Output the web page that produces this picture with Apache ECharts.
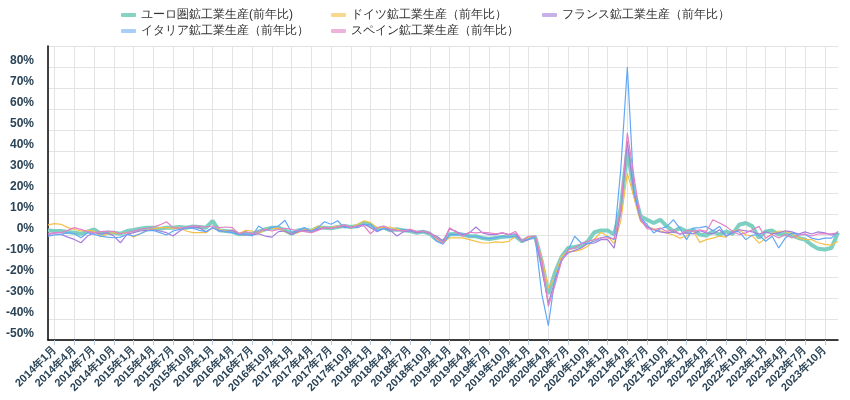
<!DOCTYPE html>
<html><head><meta charset="utf-8">
<script src="https://cdn.jsdelivr.net/npm/echarts@6/dist/echarts.min.js"></script>
<style>html,body{margin:0;padding:0;background:#fff}#c{width:850px;height:400px}</style>
</head><body><div id="c"></div>
<script>
// months 2013-12 .. 2023-12
const months = ['2013年12月'];
for (let y = 2014; y <= 2023; y++) for (let m = 1; m <= 12; m++) months.push(y + '年' + m + '月');

const euroArea = [2.2,1.9,1.9,1.4,1.1,0.6,1.6,2.7,0.6,1.1,1.1,0.6,1.9,2.4,3.0,3.5,3.5,2.9,3.5,3.5,3.8,3.5,4.0,3.8,3.5,6.7,2.2,1.9,1.6,0.3,0.6,
  0.6,1.6,2.7,3.5,3.5,2.2,0.6,2.2,2.7,1.9,3.5,3.5,3.2,3.8,4.3,3.8,4.3,5.9,4.8,2.7,3.5,2.2,2.7,2.2,1.9,1.1,1.6,0.6,-2.1,-3.2,0.3,
  0.5,0.2,-0.6,-0.6,-1.4,-1.9,-1.4,-0.9,-0.6,-0.6,-3.0,-1.4,-0.9,
  -12.5,-28,-18,-10.5,-6.2,-5.7,-5.1,-3,1.3,2.2,2.2,0.2,13,40.6,21,
  8.9,7.3,5.7,7.3,4.1,1.7,3.3,1.7,2.5,0.2,-0.2,1.7,0.2,1.7,0.5,4.9,5.7,4.1,-1.4,1.7,2.1,0.2,0.5,-0.2,-1.4,-2.2,-4.8,-6.6,-6.9,-6.2,1.2];
const germany = [4.8,5.4,5.1,3.5,2.7,1.9,2.2,1.9,-0.8,0.6,1.1,0.6,1.1,-1.0,0.6,2.2,2.9,3.5,3.5,3.2,3.5,1.9,1.1,1.1,1.1,3.5,2.7,1.9,2.2,0.6,2.2,
  1.9,0.6,2.7,3.2,3.2,1.6,0.6,1.1,2.7,2.2,4.3,3.5,3.5,4.3,3.8,3.5,5.1,6.7,5.9,3.5,3.5,3.8,2.7,2.2,2.7,1.1,1.6,0.6,-2.1,-3.7,-1.3,
  -1.4,-1.4,-2.2,-3.0,-3.8,-3.8,-3.3,-3.5,-3.0,-0.6,-3.0,-1.0,-0.6,
  -11,-25.2,-20,-10.2,-7.8,-7.8,-7,-5.4,-1.9,1.3,-0.6,-4.1,6.5,29.5,18,
  6.5,4.1,3.0,2.0,1.0,0.0,-1.5,-0.5,2.0,-3.5,-2.2,-1.5,-0.5,-1.0,2.0,2.5,0.0,-0.4,-3.9,-1.6,0.7,1.9,1.6,0.7,-1.5,-2.1,-2.2,-3.7,-4.5,-4.8,-3.0];
const france = [0.3,0.6,0.3,-1.0,-2.1,-3.7,-0.5,1.1,0.6,1.1,-0.5,-3.7,0.3,1.1,1.9,2.2,2.5,1.9,1.1,-0.5,1.9,3.5,3.8,3.5,1.6,3.5,1.9,1.6,2.2,0.3,0.0,
  0.0,0.6,-0.5,-1.0,1.6,1.9,0.3,1.6,2.2,1.9,2.7,3.5,3.2,3.8,4.1,3.5,4.3,5.1,3.5,1.6,3.2,2.2,-0.5,1.6,1.9,1.1,1.6,0.6,-0.5,-2.9,2.9,
  1.7,0.2,1.0,3.8,1.0,0.2,0.2,1.0,0.2,0.6,-3.0,-2.2,-0.6,
  -16.2,-32.5,-22,-11.8,-8.6,-7.3,-6.2,-4.1,-3.8,-2.2,-2.2,-6.2,11,44.6,20,
  7.3,4.0,2.5,1.5,1.0,1.5,0.5,1.0,0.5,2.0,1.0,0.5,2.5,-0.5,1.0,2.5,2.0,1.5,0.5,1.5,0.5,1.0,2.0,1.5,0.5,1.5,0.5,1.5,1.0,0.0,1.0];
const italy = [-0.5,0.0,0.3,1.1,0.6,-1.3,1.1,0.3,-0.5,-1.0,-1.3,-1.0,0.3,-0.5,0.6,1.9,2.2,1.1,0.0,1.9,2.7,3.5,3.2,2.2,1.6,3.5,2.2,1.6,1.1,0.3,0.6,
  -0.5,4.3,2.2,3.5,4.3,7.0,1.1,2.2,3.5,1.6,3.5,6.3,5.1,6.8,3.5,3.8,3.5,4.8,5.1,1.9,3.2,2.7,1.9,2.7,2.2,1.6,1.6,1.1,-2.9,-4.4,0.3,
  0.2,0.2,-0.6,-0.6,-1.4,-1.7,-1.4,-0.6,-1.0,-0.6,-2.7,-1.9,-1.0,
  -28,-43.2,-20.6,-12.5,-7.3,-0.6,-3.8,-4.1,-3.0,-1.4,-0.6,-2.2,31,80,21,
  8.1,5,1,3,4,7.3,3,-2.2,3.3,3.5,4.1,2,4.1,-0.6,1.8,1.5,-2.2,0,0,-3,-0.6,-6.2,-1.4,1,0.2,0.2,-1.5,-2.2,-1.5,-1.5,1.7];
const spain = [0.6,1.1,1.1,2.2,3.5,2.7,1.6,1.1,1.6,1.9,1.6,0.6,1.1,1.9,2.7,3.2,3.8,4.8,6.3,3.5,3.2,3.8,4.3,4.1,3.8,4.3,3.5,3.8,3.5,0.6,1.6,
  0.6,1.6,2.7,1.9,2.7,3.2,2.7,1.9,1.6,1.1,2.2,3.5,3.2,3.8,4.8,3.5,4.3,4.3,0.6,3.5,4.3,2.7,2.2,1.9,2.7,1.6,1.9,1.1,-1.3,-4.0,3.5,
  1.3,-0.6,1.3,1.0,1.3,1.0,0.6,1.0,0.2,1.7,-2.7,-0.6,-0.6,
  -12,-34,-24,-12.5,-7,-6.2,-4.1,-3.0,-2.2,-1.4,-1.4,-1.9,12,48.6,28,
  7.3,3,2.5,3.3,1.7,2.5,0.2,2.1,1.7,2.5,1.7,7.3,5.7,4.1,1.7,0.2,1,2.5,4.1,-1.4,0.2,-1.4,0.2,-1.4,0,0.5,-0.5,0.5,0.5,0.5,1];

const names = ['ユーロ圏鉱工業生産(前年比)','ドイツ鉱工業生産（前年比）','フランス鉱工業生産（前年比）','イタリア鉱工業生産（前年比）','スペイン鉱工業生産（前年比）'];
const values = [euroArea, germany, france, italy, spain];
const colors = ['#7ccfc1','#f5c04a','#a57ddc','#62a8f7','#e381c5'];
const legendColors = ['#86d3c6','#f7d88f','#c8b1e8','#a9cef8','#eeb3db'];
const widths = [4,1.2,1.2,1.2,1.2];
const legendPos = [[121,9],[331,9],[542,9],[121,25],[331,25]];

const every3 = (i) => i % 3 === 1;
const chart = echarts.init(document.getElementById('c'), null, {renderer:'canvas'});
chart.setOption({
  animation: false,
  color: colors,
  legend: names.map((n,k)=>({
    left: legendPos[k][0], top: legendPos[k][1], padding: 0,
    icon: 'roundRect', itemWidth: 15, itemHeight: 4,
    textStyle: {fontSize: 12, color: '#333'},
    data: [{name: n, itemStyle: {color: legendColors[k]}}]
  })),
  grid: {left: 48, right: 12, top: 46, bottom: 60},
  xAxis: {
    type: 'category', boundaryGap: false, data: months,
    axisLine: {onZero: false, lineStyle: {color: '#000', width: 1.5}},
    axisTick: {show: true, interval: every3, length: 5, lineStyle: {color: '#bccbe2'}},
    axisLabel: {interval: every3, rotate: 45, fontSize: 11, fontWeight: 'bold', color: '#2a4356'},
    splitLine: {show: true, interval: every3, lineStyle: {color: '#e3e3e3'}}
  },
  yAxis: {
    type: 'value', min: -50, max: 90, interval: 10,
    axisLine: {show: true, lineStyle: {color: '#000', width: 1.5}},
    axisTick: {show: false},
    axisLabel: {formatter: '{value}%', fontSize: 12, fontWeight: 'bold', color: '#2a4356', showMaxLabel: false, verticalAlign: 'bottom', margin: 14},
    splitLine: {show: true, lineStyle: {color: '#e3e3e3'}}
  },
  series: names.map((n,k)=>({
    name: n, type: 'line', data: values[k], symbol: 'none',
    lineStyle: {width: widths[k], color: colors[k]}
  }))
});
</script></body></html>
